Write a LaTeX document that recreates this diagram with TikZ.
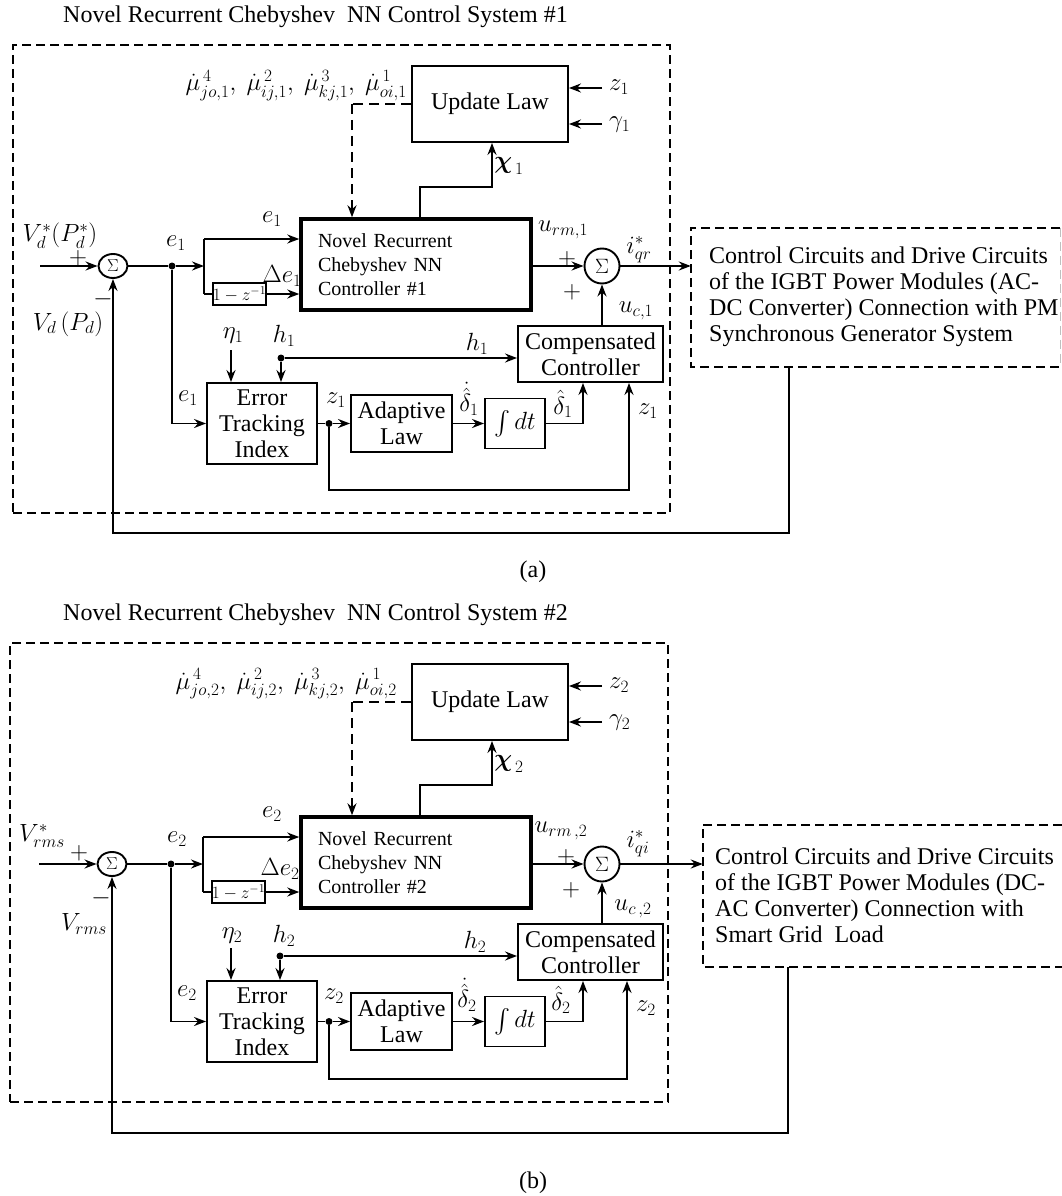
\documentclass[tikz,border=0pt]{standalone}
\usepackage{amsmath,amssymb}
\usepackage{fontspec}
\setmainfont{Liberation Serif}
\usetikzlibrary{arrows.meta,shapes.geometric,calc}
\newcommand\fsbig{\fontsize{24}{26}\selectfont}
\newcommand\fsnn{\fontsize{20}{24}\selectfont}
\newcommand\fsmath{\fontsize{24}{26}\selectfont}
\newcommand\fssmall{\fontsize{17}{18}\selectfont}
\newcommand\fssig{\fontsize{16}{16}\selectfont}
\newcommand\fssigb{\fontsize{22}{22}\selectfont}
\begin{document}
\begin{tikzpicture}[x=1pt,y=-1pt,
  conn/.style={line width=1.9pt},
  arr/.style={conn,-{Stealth[length=12pt,width=9pt,inset=4pt]}},
  dconn/.style={conn,dash pattern=on 10pt off 6pt},
  dframe/.style={draw,line width=1.8pt,dash pattern=on 9pt off 5pt},
  blk/.style={draw,line width=1.9pt,inner sep=0pt,align=center,font=\fsbig},
  nnblk/.style={draw,line width=3.5pt,inner sep=0pt,align=left,font=\fsnn,text width=196pt},
  dotn/.style={circle,fill,inner sep=0pt,minimum size=7pt},
  lbl/.style={inner sep=0pt,font=\fsmath},
  sumA/.style={draw,ellipse,line width=1.9pt,minimum width=29pt,minimum height=24pt,inner sep=0pt,font=\fssig},
  sumB/.style={draw,circle,line width=1.9pt,minimum size=35pt,inner sep=0pt,font=\fssigb},
  txt/.style={inner sep=0pt,font=\fsbig,align=left}]
\useasboundingbox (0,0) rectangle (1062,1196);
\fill[white] (0,0) rectangle (1062,1196);

%================ PANEL (a) ================
\node[anchor=west,inner sep=0pt,font=\fsbig] (a-title) at (63,17) {Novel Recurrent Chebyshev\ \ NN Control System \#1};
\node[dframe,minimum width=657pt,minimum height=468pt] (a-frame) at (341.5,279) {};
\node[blk,minimum width=156pt,minimum height=76pt] (a-ul) at (490,104) {Update Law};
\node[nnblk,minimum width=230pt,minimum height=91pt] (a-nn) at (416,264.5) {Novel Recurrent\\Chebyshev NN\\Controller \#1};
\node[blk,minimum width=51pt,minimum height=22pt,font=\fssmall] (a-dl) at (239.5,294) {$1-z^{-1}$};
\node[blk,minimum width=110pt,minimum height=81pt] (a-err) at (262,423.5) {Error\\Tracking\\Index};
\node[blk,minimum width=101pt,minimum height=57pt] (a-ad) at (401.5,423.5) {Adaptive\\Law};
\node[blk,minimum width=60pt,minimum height=50pt] (a-int) at (515,423.5) {$\int dt$};
\node[blk,minimum width=145pt,minimum height=56pt] (a-comp) at (590.5,354) {Compensated\\Controller};
\node[sumA] (a-s1) at (113,266) {$\Sigma$};
\node[sumB] (a-s2) at (602,266) {$\Sigma$};
\node[minimum width=369pt,minimum height=139pt,inner sep=0pt] (a-ext) at (875.5,297.5) {};
\node[txt,anchor=west] (a-extt) at (709,297) {Control Circuits and Drive Circuits\\of the IGBT Power Modules (AC-\\DC Converter) Connection with PM\\Synchronous Generator System};
\draw[dframe] (a-ext.north east) -- (a-ext.north west) -- (a-ext.south west) -- (a-ext.south east);
\draw[dframe,gray!50,line width=1pt] (a-ext.north east) -- (a-ext.south east);
\node[dotn] (a-d1) at (172,266) {};
\node[dotn] (a-hd) at (281,358) {};
\node[dotn] (a-zd) at (329,423.5) {};
\coordinate (a-dk) at (352,104);
\coordinate (a-x1) at (420,187);
\coordinate (a-x2) at (492,187);
\coordinate (a-zin) at (602,88);
\coordinate (a-gin) at (602,124);
\coordinate (a-in) at (40,266);
\coordinate (a-br) at (204,266);
\coordinate (a-bt) at (204,239);
\coordinate (a-bb) at (204,294);
\coordinate (a-eta) at (231,350);
\coordinate (a-dh) at (583,423.5);
\coordinate (a-zf) at (629,490);
\coordinate (a-fb) at (789,533);
% connectors
\draw[dconn] (a-ul.west) -- (a-dk);
\draw[dconn,-{Stealth[length=12pt,width=9pt,inset=4pt]}] (a-dk) -- (a-dk |- a-nn.north);
\draw[arr] (a-x1 |- a-nn.north) -- (a-x1) -- (a-x2) -- (a-x2 |- a-ul.south);
\draw[arr] (a-zin) -- (a-zin -| a-ul.east);
\draw[arr] (a-gin) -- (a-gin -| a-ul.east);
\draw[arr] (a-in) -- (a-s1.west);
\draw[conn] (a-s1.east) -- (a-d1);
\draw[arr] (a-d1) -- (a-br);
\draw[conn] (a-bt) -- (a-bb);
\draw[arr] (a-bt) -- (a-bt -| a-nn.west);
\draw[conn] (a-bb) -- (a-dl.west);
\draw[arr] (a-dl.east) -- (a-dl.east -| a-nn.west);
\draw[arr] (a-d1) -- (a-d1 |- a-err.west) -- (a-err.west);
\draw[arr] (a-eta) -- (a-eta |- a-err.north);
\draw[arr] (a-hd) -- (a-hd |- a-err.north);
\draw[arr] (a-hd) -- (a-hd -| a-comp.west);
\draw[arr] (a-nn.east |- a-s2) -- (a-s2.west);
\draw[arr] (a-s2 |- a-comp.north) -- (a-s2.south);
\draw[arr] (a-s2.east) -- (a-s2 -| a-ext.west);
\draw[conn] (a-err.east) -- (a-zd);
\draw[arr] (a-zd) -- (a-ad.west);
\draw[arr] (a-ad.east) -- (a-int.west);
\draw[arr] (a-int.east) -- (a-dh) -- (a-dh |- a-comp.south);
\draw[arr] (a-zd) -- (a-zd |- a-zf) -- (a-zf) -- (a-zf |- a-comp.south);
\draw[arr] (a-fb |- a-ext.south) -- (a-fb) -- (a-fb -| a-s1) -- (a-s1.south);
% labels
\node[lbl,anchor=east] (a-mu) at (407,86) {$\dot{\mu}^{\,4}_{jo,1},\ \dot{\mu}^{\,2}_{ij,1},\ \dot{\mu}^{\,3}_{kj,1},\ \dot{\mu}^{\,1}_{oi,1}$};
\node[lbl,anchor=west] (a-lz) at (609,87) {$z_1$};
\node[lbl,anchor=west] (a-lg) at (609,125) {$\gamma_1$};
\node[lbl] (a-lchi) at (509,166) {$\boldsymbol{\chi}_{\,1}$};
\node[lbl] (a-lv) at (60,236) {$V_d^*(P_d^*)$};
\node[lbl] (a-lp) at (78,258) {$+$};
\node[lbl] (a-lm) at (103,299) {$-$};
\node[lbl] (a-lvd) at (68,324) {$V_d\,(P_d)$};
\node[lbl] (a-le1) at (176,243) {$e_1$};
\node[lbl] (a-le2) at (272,219) {$e_1$};
\node[lbl] (a-lde) at (282,276) {$\Delta e_1$};
\node[lbl] (a-le3) at (188,398) {$e_1$};
\node[lbl] (a-leta) at (233,336) {$\eta_1$};
\node[lbl] (a-lh1) at (284,336) {$h_1$};
\node[lbl] (a-lh2) at (477,344) {$h_1$};
\node[lbl] (a-lz1) at (336,400) {$z_1$};
\node[lbl] (a-ldd) at (469,399) {$\dot{\hat{\delta}}_1$};
\node[lbl] (a-ldh) at (563,404) {$\hat{\delta}_1$};
\node[lbl] (a-lz2) at (648,411) {$z_1$};
\node[lbl] (a-luc) at (636,311) {$u_{c,1}$};
\node[lbl] (a-lurm) at (563,230) {$u_{rm,1}$};
\node[lbl] (a-li) at (639,250) {$i_{qr}^*$};
\node[lbl] (a-lp2) at (567,259) {$+$};
\node[lbl] (a-lp3) at (572,292) {$+$};
\node[inner sep=0pt,font=\fsbig] (a-cap) at (533,572) {(a)};

%================ PANEL (b) ================
\begin{scope}[yshift=-598pt]
\node[anchor=west,inner sep=0pt,font=\fsbig] (b-title) at (63,17) {Novel Recurrent Chebyshev\ \ NN Control System \#2};
\node[dframe,minimum width=658pt,minimum height=459pt] (b-frame) at (339,274.5) {};
\node[blk,minimum width=156pt,minimum height=76pt] (b-ul) at (490,104) {Update Law};
\node[nnblk,minimum width=230pt,minimum height=91pt] (b-nn) at (416,264.5) {Novel Recurrent\\Chebyshev NN\\Controller \#2};
\node[blk,minimum width=51pt,minimum height=22pt,font=\fssmall] (b-dl) at (238.5,294) {$1-z^{-1}$};
\node[blk,minimum width=110pt,minimum height=81pt] (b-err) at (262,423.5) {Error\\Tracking\\Index};
\node[blk,minimum width=101pt,minimum height=57pt] (b-ad) at (401.5,423.5) {Adaptive\\Law};
\node[blk,minimum width=60pt,minimum height=50pt] (b-int) at (515,423.5) {$\int dt$};
\node[blk,minimum width=145pt,minimum height=56pt] (b-comp) at (590.5,354) {Compensated\\Controller};
\node[sumA] (b-s1) at (112,266) {$\Sigma$};
\node[sumB] (b-s2) at (602,266) {$\Sigma$};
\node[minimum width=359pt,minimum height=142pt,inner sep=0pt] (b-ext) at (882.5,298) {};
\node[txt,anchor=west] (b-extt) at (715,297) {Control Circuits and Drive Circuits\\of the IGBT Power Modules (DC-\\AC Converter) Connection with\\Smart Grid\ \ Load};
\draw[dframe] (b-ext.north east) -- (b-ext.north west) -- (b-ext.south west) -- (b-ext.south east);
\node[dotn] (b-d1) at (171,266) {};
\node[dotn] (b-hd) at (280,358) {};
\node[dotn] (b-zd) at (329,423.5) {};
\coordinate (b-dk) at (352,104);
\coordinate (b-x1) at (420,187);
\coordinate (b-x2) at (492,187);
\coordinate (b-zin) at (602,88);
\coordinate (b-gin) at (602,124);
\coordinate (b-in) at (39,266);
\coordinate (b-br) at (203,266);
\coordinate (b-bt) at (203,239);
\coordinate (b-bb) at (203,294);
\coordinate (b-eta) at (231,350);
\coordinate (b-dh) at (583,423.5);
\coordinate (b-zf) at (627,481);
\coordinate (b-fb) at (788,535);
\draw[dconn] (b-ul.west) -- (b-dk);
\draw[dconn,-{Stealth[length=12pt,width=9pt,inset=4pt]}] (b-dk) -- (b-dk |- b-nn.north);
\draw[arr] (b-x1 |- b-nn.north) -- (b-x1) -- (b-x2) -- (b-x2 |- b-ul.south);
\draw[arr] (b-zin) -- (b-zin -| b-ul.east);
\draw[arr] (b-gin) -- (b-gin -| b-ul.east);
\draw[arr] (b-in) -- (b-s1.west);
\draw[conn] (b-s1.east) -- (b-d1);
\draw[arr] (b-d1) -- (b-br);
\draw[conn] (b-bt) -- (b-bb);
\draw[arr] (b-bt) -- (b-bt -| b-nn.west);
\draw[conn] (b-bb) -- (b-dl.west);
\draw[arr] (b-dl.east) -- (b-dl.east -| b-nn.west);
\draw[arr] (b-d1) -- (b-d1 |- b-err.west) -- (b-err.west);
\draw[arr] (b-eta) -- (b-eta |- b-err.north);
\draw[arr] (b-hd) -- (b-hd |- b-err.north);
\draw[arr] (b-hd) -- (b-hd -| b-comp.west);
\draw[arr] (b-nn.east |- b-s2) -- (b-s2.west);
\draw[arr] (b-s2 |- b-comp.north) -- (b-s2.south);
\draw[arr] (b-s2.east) -- (b-s2 -| b-ext.west);
\draw[conn] (b-err.east) -- (b-zd);
\draw[arr] (b-zd) -- (b-ad.west);
\draw[arr] (b-ad.east) -- (b-int.west);
\draw[arr] (b-int.east) -- (b-dh) -- (b-dh |- b-comp.south);
\draw[arr] (b-zd) -- (b-zd |- b-zf) -- (b-zf) -- (b-zf |- b-comp.south);
\draw[arr] (b-fb |- b-ext.south) -- (b-fb) -- (b-fb -| b-s1) -- (b-s1.south);
\node[lbl,anchor=east] (b-mu) at (397,86) {$\dot{\mu}^{\,4}_{jo,2},\ \dot{\mu}^{\,2}_{ij,2},\ \dot{\mu}^{\,3}_{kj,2},\ \dot{\mu}^{\,1}_{oi,2}$};
\node[lbl,anchor=west] (b-lz) at (609,87) {$z_2$};
\node[lbl,anchor=west] (b-lg) at (609,125) {$\gamma_2$};
\node[lbl] (b-lchi) at (509,166) {$\boldsymbol{\chi}_{\,2}$};
\node[lbl] (b-lv) at (42,238) {$V_{rms}^*$};
\node[lbl] (b-lp) at (79,255) {$+$};
\node[lbl] (b-lm) at (101,300) {$-$};
\node[lbl] (b-lvd) at (84,326) {$V_{rms}$};
\node[lbl] (b-le1) at (177,241) {$e_2$};
\node[lbl] (b-le2) at (272,216) {$e_2$};
\node[lbl] (b-lde) at (280,271) {$\Delta e_2$};
\node[lbl] (b-le3) at (187,395) {$e_2$};
\node[lbl] (b-leta) at (232,338) {$\eta_2$};
\node[lbl] (b-lh1) at (284,338) {$h_2$};
\node[lbl] (b-lh2) at (475,344) {$h_2$};
\node[lbl] (b-lz1) at (334,398) {$z_2$};
\node[lbl] (b-ldd) at (467,397) {$\dot{\hat{\delta}}_2$};
\node[lbl] (b-ldh) at (561,402) {$\hat{\delta}_2$};
\node[lbl] (b-lz2) at (646,410) {$z_2$};
\node[lbl] (b-luc) at (633,311) {$u_{c\,,2}$};
\node[lbl] (b-lurm) at (561,233) {$u_{rm\,,2}$};
\node[lbl] (b-li) at (638,246) {$i_{qi}^*$};
\node[lbl] (b-lp2) at (566,259) {$+$};
\node[lbl] (b-lp3) at (571,292) {$+$};
\node[inner sep=0pt,font=\fsbig] (b-cap) at (533,585) {(b)};
\end{scope}
\end{tikzpicture}
\end{document}
